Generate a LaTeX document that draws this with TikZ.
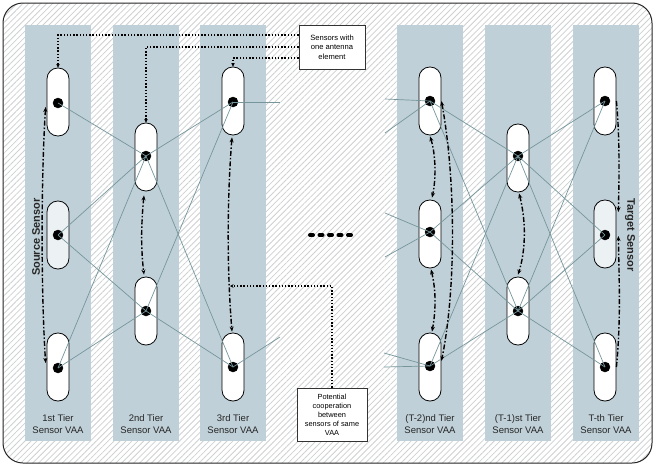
\documentclass[tikz,border=0pt]{standalone}
\usepackage{fontspec}
\setmainfont{Liberation Sans}
\usetikzlibrary{patterns.meta,arrows.meta,calc}
\definecolor{bandc}{RGB}{192,208,216}
\definecolor{linkc}{RGB}{118,150,156}
\definecolor{srcfill}{RGB}{236,241,244}
\definecolor{hatchc}{RGB}{206,208,210}
\begin{document}
\begin{tikzpicture}[x=1pt,y=-1pt,
  sensor/.style={draw=black,line width=0.8pt,fill=white,rectangle,rounded corners=10.8pt,minimum width=22pt,minimum height=68pt,inner sep=0pt},
  srcsensor/.style={sensor,fill=srcfill},
  dotnode/.style={circle,fill=black,draw=black,line width=0.4pt,minimum size=10pt,inner sep=0pt,outer sep=0pt},
  link/.style={draw=linkc,line width=0.7pt},
  coop/.style={line width=1.4pt,dash pattern=on 5pt off 2pt on 1.5pt off 2pt,{Stealth[length=5pt,width=4pt]}-{Stealth[length=5pt,width=4pt]}},
  coopone/.style={line width=1.4pt,dash pattern=on 5pt off 2pt on 1.5pt off 2pt,-{Stealth[length=5pt,width=4pt]}},
  pointer/.style={line width=1.4pt,dash pattern=on 1.4pt off 1.8pt,-{Stealth[length=3.5pt,width=3.5pt]}},
  tier/.style={align=center,font=\fontsize{9.5}{11.5}\selectfont,text=black!85},
  note/.style={draw=black!80,line width=0.8pt,fill=white,align=center,font=\fontsize{7.6}{9.5}\selectfont,inner sep=1pt},
  sidelabel/.style={font=\bfseries\fontsize{11}{13}\selectfont,text=black!85}
]
\useasboundingbox (0,0) rectangle (655,466);
% outer hatched frame
\fill[white,rounded corners=20pt] (3,3) rectangle (652,463);
\fill[pattern={Lines[angle=45,distance=4.2pt,line width=0.8pt]},pattern color=hatchc,rounded corners=20pt] (3,3) rectangle (652,463);
\draw[black!85,line width=1pt,rounded corners=20pt] (3,3) rectangle (652,463);
% bands
\foreach \x in {25,113,200,397,485,573}{
  \fill[bandc] (\x,25) rectangle ++(66,416);
}
% sensors
\node[sensor] (s11) at (58,102) {};
\node[srcsensor] (s12) at (58,235) {};
\node[sensor] (s13) at (58,367) {};
\node[sensor] (s21) at (146,157) {};
\node[sensor] (s22) at (146,311) {};
\node[sensor] (s31) at (233,101) {};
\node[sensor] (s32) at (233,367) {};
\node[sensor] (s41) at (430,101) {};
\node[sensor] (s42) at (430,234) {};
\node[sensor] (s43) at (430,367) {};
\node[sensor] (s51) at (518,158) {};
\node[sensor] (s52) at (518,311) {};
\node[sensor] (s61) at (605,101) {};
\node[srcsensor] (s62) at (605,234) {};
\node[sensor] (s63) at (605,367) {};
% dots
\node[dotnode] (d11) at (58,103) {};
\node[dotnode] (d12) at (58,235) {};
\node[dotnode] (d13) at (58,368) {};
\node[dotnode] (d21) at (146,156) {};
\node[dotnode] (d22) at (146,311) {};
\node[dotnode] (d31) at (233,102) {};
\node[dotnode] (d32) at (233,367) {};
\node[dotnode] (d41) at (430,101) {};
\node[dotnode] (d42) at (430,232) {};
\node[dotnode] (d43) at (430,366) {};
\node[dotnode] (d51) at (518,156) {};
\node[dotnode] (d52) at (518,311) {};
\node[dotnode] (d61) at (605,101) {};
\node[dotnode] (d62) at (605,235) {};
\node[dotnode] (d63) at (605,367) {};
% stub ends
\coordinate (e31) at (280,102);
\coordinate (e32) at (280,337);
\coordinate (f1) at (385,99);
\coordinate (f2) at (385,133);
\coordinate (f3) at (385,213);
\coordinate (f4) at (385,257);
\coordinate (f5) at (384,353);
\coordinate (f6) at (384,367);
% links
\foreach \a/\b in {d11/d21,d12/d21,d12/d22,d13/d21,d13/d22,
                   d21/d31,d21/d32,d22/d31,d22/d32,
                   d41/d51,d41/d52,d42/d51,d42/d52,d43/d51,d43/d52,
                   d51/d61,d51/d62,d51/d63,d52/d61,d52/d62,d52/d63}{
  \draw[link] (\a.center) -- (\b.center);
}
\draw[link] (d31.center) -- (e31);
\draw[link] (d32.center) -- (e32);
\draw[link] (f1) -- (d41.center);
\draw[link] (f2) -- (d41.center);
\draw[link] (f3) -- (d42.center);
\draw[link] (f4) -- (d42.center);
\draw[link] (f5) -- (d43.center);
\draw[link] (f6) -- (d43.center);
% cooperation arrows
\draw[coop] ($(s11.west)+(-1,5)$) .. controls (41,180) and (41,290) .. ($(s13.west)+(-1,-4)$);
\draw[coop] ($(s21.south)+(-2,4)$) .. controls (141,225) and (141,250) .. ($(s22.north)+(-2,-2)$);
\draw[coop] ($(s31.south)+(-1,2)$) .. controls (227,200) and (227,270) .. ($(s32.north)+(-1,-1)$);
\coordinate (c3) at (230,286);
\draw[coop] ($(s41.south)+(0,1)$) .. controls (436,155) and (436,180) .. ($(s42.north)+(2,-2)$);
\draw[coop] ($(s42.south)+(1,1)$) .. controls (436,290) and (436,310) .. ($(s43.north)+(2,-1)$);
\draw[coop] (s41.east) .. controls (456,180) and (456,290) .. ($(s43.east)+(0,-6)$);
\draw[coop] ($(s51.south)+(1,1)$) .. controls (526,220) and (526,250) .. ($(s52.north)+(0,-2)$);
\draw[coopone] (s61.east) .. controls (620,140) and (619,180) .. ($(s62.east)+(2,-22)$);
\draw[coopone] (s63.east) .. controls (621,320) and (619,280) .. ($(s62.east)+(2,2)$);
% notes
\node[note,minimum width=66pt,minimum height=44pt] (n1) at (332,47) {Sensors with\\one antenna\\element};
\node[note,minimum width=70pt,minimum height=53pt,font=\fontsize{7.4}{9}\selectfont] (n2) at (332,414.5) {Potential\\cooperation\\between\\sensors of same\\VAA};
\draw[pointer] ($(n1.west)+(0,-12)$) -| (s11.north);
\draw[pointer] (n1.west) -| (s21.north);
\draw[pointer] ($(n1.west)+(0,11)$) -| (s31.north);
\draw[pointer] (n2.north) |- (c3);
% ellipsis dashes
\draw[line width=4pt,line cap=round,dash pattern=on 3pt off 6.5pt] (310,235) -- (356,235);
% labels
\node[tier] (t1) at (58,424) {1st Tier\\Sensor VAA};
\node[tier] (t2) at (146,424) {2nd Tier\\Sensor VAA};
\node[tier] (t3) at (233,424) {3rd Tier\\Sensor VAA};
\node[tier] (t4) at (430,424) {(T-2)nd Tier\\Sensor VAA};
\node[tier] (t5) at (518,424) {(T-1)st Tier\\Sensor VAA};
\node[tier] (t6) at (606,424) {T-th Tier\\Sensor VAA};
\node[sidelabel,rotate=90] (src) at (36,237) {Source Sensor};
\node[sidelabel,rotate=-90] (tgt) at (630,235) {Target Sensor};
\end{tikzpicture}
\end{document}
